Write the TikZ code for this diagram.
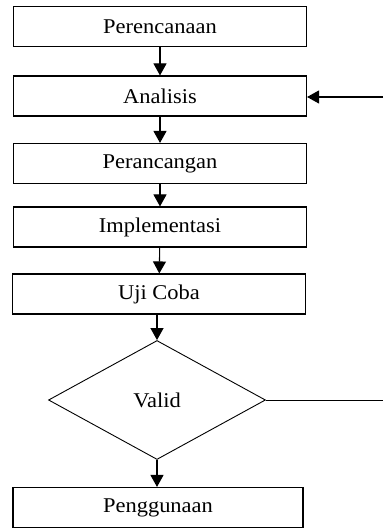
\documentclass[tikz,border=0pt]{standalone}
\usepackage{fontspec}
\setmainfont{Liberation Serif}[FakeStretch=1.07]
\usepackage{tikz}
\usetikzlibrary{arrows.meta,shapes.geometric}

\begin{document}
\begin{tikzpicture}[x=1pt, y=-1pt, line width=1.1pt,
    tahap/.style={draw, rectangle, minimum width=293pt, minimum height=40pt, inner sep=0pt, font=\fontsize{21}{25}\selectfont},
    cek/.style={draw, diamond, minimum width=217pt, minimum height=119pt, inner sep=0pt, line width=0.9pt, font=\fontsize{21}{25}\selectfont},
    panah/.style={-{Triangle[width=13pt,length=12pt]}}]
    \useasboundingbox (0,0) rectangle (383,529);
    \node[tahap] (plan) at (160,26.5) {Perencanaan};
    \node[tahap] (anal) at (160,96) {Analisis};
    \node[tahap] (ranc) at (160,163.5) {Perancangan};
    \node[tahap] (impl) at (160,227) {Implementasi};
    \node[tahap] (uji) at (159,294) {Uji Coba};
    \node[cek] (valid) at (157,400) {Valid};
    \node[tahap, minimum width=290pt] (guna) at (158,507.5) {Penggunaan};
    \coordinate (balikA) at (383,97);
    \coordinate (balikV) at (383,400);
    \draw[panah] (plan) -- (anal);
    \draw[panah] (anal) -- (ranc);
    \draw[panah] (ranc) -- (impl);
    \draw[panah] (impl) -- (uji);
    \draw[panah] (uji.south -| valid.north) -- (valid.north);
    \draw[panah] (valid.south) -- (guna.north -| valid.south);
    \draw[line width=0.9pt] (valid.east) -- (balikV);
    \draw[panah] (balikA) -- (anal.east |- balikA);
\end{tikzpicture}
\end{document}
